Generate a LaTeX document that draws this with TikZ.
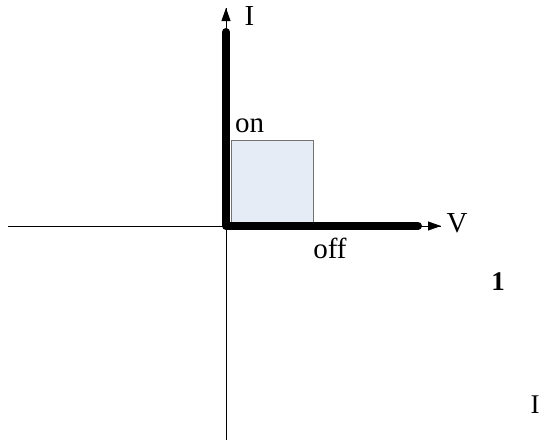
\documentclass[tikz,border=0pt]{standalone}
\usepackage{fontspec}
\setmainfont{Liberation Serif}
\usetikzlibrary{arrows.meta}
\begin{document}
\begin{tikzpicture}[x=1pt,y=-1pt,
  thinaxis/.style={line width=0.8pt,black},
  thickline/.style={line width=8pt,black,line cap=round,line join=round},
  axarrow/.style={line width=0.8pt,-{Triangle[length=13pt,width=9pt]}},
  lbl/.style={inner sep=0pt,font=\fontsize{29}{32}\selectfont},
  region/.style={draw=black!55,line width=0.6pt,fill={rgb,255:red,230;green,236;blue,246}}]
\useasboundingbox (0,0) rectangle (542,442);
\coordinate (O) at (226,226);
\coordinate (Lft) at (8,226);
\coordinate (Bot) at (226,440);
\coordinate (Ttop) at (226,32);
\coordinate (Tright) at (418,226);
\coordinate (Atop) at (226,8);
\coordinate (Aright) at (441,226);
% thin axes
\draw[thinaxis] (Lft) -- (Aright);
\draw[thinaxis] (Bot) -- (Atop);
% shaded region
\node[region,minimum width=82pt,minimum height=82pt,inner sep=0pt,anchor=north west] (box) at (231,140) {};
% thick characteristic
\draw[thickline] (Ttop) -- (O) -- (Tright);
% arrows
\draw[axarrow] (Ttop) -- (Atop);
\draw[axarrow] (Tright) -- (Aright);
% labels
\node[lbl] (lI) at (249.5,16) {I};
\node[lbl,anchor=base] (lon) at (249.5,132) {on};
\node[lbl] (lV) at (457,223) {V};
\node[lbl,anchor=base] (loff) at (330,258) {off};
\node[lbl,font=\fontsize{27}{30}\selectfont\bfseries] (l1) at (498,282) {1};
\node[lbl,font=\fontsize{27}{30}\selectfont] (lI2) at (535,405) {I};
\end{tikzpicture}
\end{document}
